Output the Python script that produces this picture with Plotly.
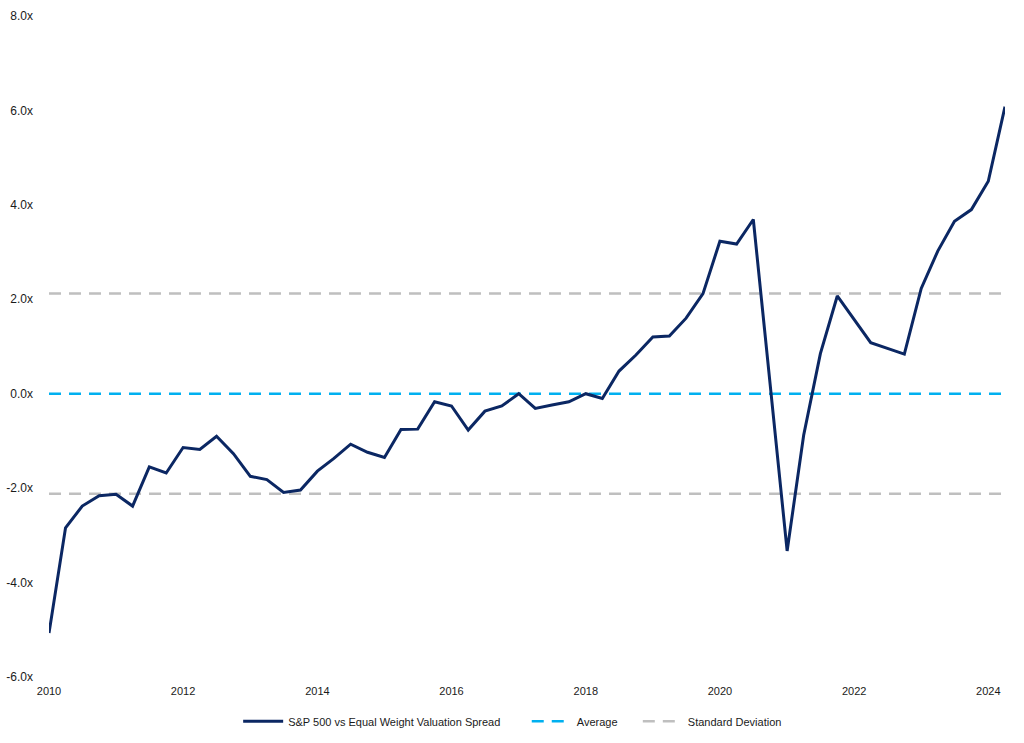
import plotly.graph_objects as go
import pandas as pd

dates = pd.date_range("2010-01-01", "2024-04-01", freq="QS").strftime("%Y-%m-%d").tolist()
spread = [
    -5.07, -2.84, -2.38, -2.16, -2.13, -2.38, -1.55, -1.68,
    -1.14, -1.18, -0.90, -1.27, -1.75, -1.82, -2.09, -2.04,
    -1.64, -1.37, -1.07, -1.24, -1.35, -0.76, -0.75, -0.17,
    -0.26, -0.77, -0.37, -0.26, 0.00, -0.31, -0.24, -0.17,
    0.00, -0.10, 0.48, 0.82, 1.20, 1.22, 1.60, 2.12,
    3.23, 3.17, 3.69, 0.17, -3.33, -0.88, 0.85, 2.07,
    1.56, 1.08, 0.96, 0.84, 2.23, 3.02, 3.65, 3.90,
    4.50, 6.08,
]
average = 0.0
std_dev = 2.12
y_ticks = [-6, -4, -2, 0, 2, 4, 6, 8]
x_ticks = [str(y) for y in range(2010, 2025, 2)]

navy = "#0b2763"
blue = "#00b0f0"
gray = "#bfbfbf"
NB = "\u00a0"

fig = go.Figure()
fig.add_trace(go.Scatter(
    x=[dates[0], dates[-1]], y=[average, average], mode="lines", name="Average" + NB * 5,
    line=dict(color=blue, width=2.5, dash="12px,8px"), legendrank=2,
))
fig.add_trace(go.Scatter(
    x=[dates[0], dates[-1], None, dates[0], dates[-1]],
    y=[std_dev, std_dev, None, -std_dev, -std_dev], mode="lines", name="Standard Deviation",
    line=dict(color=gray, width=2.5, dash="12px,8px"), connectgaps=False, legendrank=3,
))
fig.add_trace(go.Scatter(
    x=dates, y=spread, mode="lines", name="S&P 500 vs Equal Weight Valuation Spread" + NB * 7,
    line=dict(color=navy, width=3), legendrank=1,
))

fig.update_layout(
    width=1024, height=743,
    margin=dict(l=49, r=19, t=16, b=66, autoexpand=False),
    paper_bgcolor="white", plot_bgcolor="white",
    font=dict(family="Liberation Sans, Arial, sans-serif", size=12, color="#1a1a1a"),
    showlegend=True,
    legend=dict(orientation="h", x=0.485, xanchor="center", y=-0.045, yanchor="top",
                font=dict(size=11), itemwidth=40, tracegroupgap=0),
    xaxis=dict(
        type="date", range=[dates[0], dates[-1]], automargin=False,
        tickvals=[f"{y}-01-01" for y in x_ticks], ticktext=x_ticks, tickfont=dict(size=11),
        showgrid=False, zeroline=False, showline=False, ticks="", ticklabelstandoff=6,
    ),
    yaxis=dict(
        range=[-6, 8], tickvals=y_ticks, ticktext=[f"{v:.1f}x" for v in y_ticks], automargin=False,
        showgrid=False, zeroline=False, showline=False, ticks="", ticklabelstandoff=15,
    ),
)

fig.write_html(
    "out.html",
    config={"displayModeBar": False},
    post_script="document.body.style.margin='0';document.body.style.overflow='hidden';",
)
